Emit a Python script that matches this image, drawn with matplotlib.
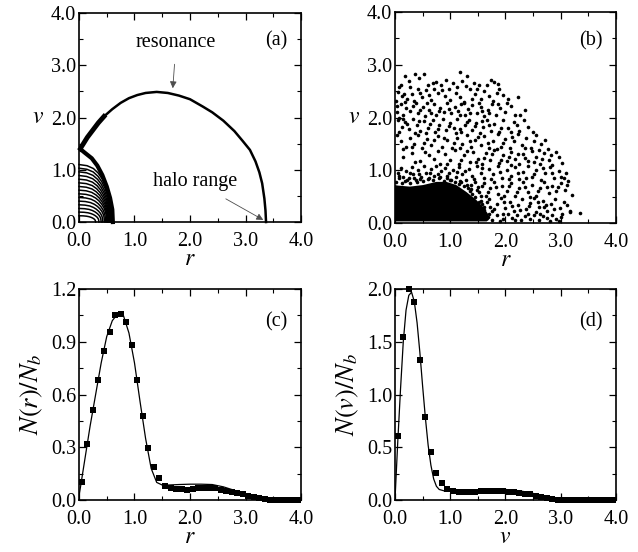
import numpy as np
import matplotlib
matplotlib.use('Agg')
import matplotlib.pyplot as plt
from matplotlib.ticker import MultipleLocator

plt.rcParams['font.family'] = 'Liberation Serif'
plt.rcParams['mathtext.fontset'] = 'stix'
plt.rcParams['font.size'] = 14.5

# ---------------- panel (a): phase-space trajectories ----------------
res_r = [0.02, 0.08, 0.15, 0.25, 0.35, 0.45, 0.60, 0.75, 0.90, 1.05, 1.20, 1.40, 1.60,
         1.80, 2.00, 2.23, 2.40, 2.60, 2.80, 2.95, 3.08, 3.18, 3.25, 3.30, 3.34, 3.36, 3.37]
res_v = [1.40, 1.50, 1.62, 1.76, 1.90, 2.02, 2.16, 2.28, 2.37, 2.43, 2.47, 2.49, 2.47,
         2.42, 2.35, 2.21, 2.10, 1.94, 1.74, 1.55, 1.38, 1.16, 0.95, 0.74, 0.45, 0.22, 0.0]

sep_r = [0.02, 0.10, 0.23, 0.33, 0.42, 0.50, 0.56, 0.60, 0.61]
sep_v = [1.40, 1.33, 1.22, 1.08, 0.90, 0.68, 0.46, 0.24, 0.0]

# unit quarter-arc shape, scaled by each orbit's extent
arc_x = [0.0, 0.25, 0.45, 0.60, 0.72, 0.82, 0.90, 0.95, 0.98, 1.0]
arc_y = [1.0, 0.98, 0.93, 0.85, 0.75, 0.63, 0.50, 0.37, 0.25, 0.0]
orbit_v0 = [1.10, 1.03, 0.96, 0.89, 0.82, 0.75, 0.68, 0.61, 0.54, 0.47, 0.40, 0.33, 0.26, 0.19, 0.12]
orbit_r0 = [0.58, 0.57, 0.56, 0.55, 0.54, 0.53, 0.52, 0.51, 0.50, 0.48, 0.46, 0.43, 0.40, 0.36, 0.30]

# ---------------- panel (b): particle distribution ----------------
core_r = [0.0, 0.0, 0.05, 0.27, 0.51, 0.75, 0.93, 1.11, 1.29, 1.47, 1.59, 1.68, 1.70, 1.66, 0.0]
core_v = [0.03, 0.72, 0.71, 0.69, 0.72, 0.78, 0.78, 0.72, 0.59, 0.44, 0.31, 0.18, 0.06, 0.03, 0.03]

halo_top = [(0.18, 2.78), (0.36, 2.82), (0.44, 2.74), (0.52, 2.82), (0.68, 2.66), (0.74, 2.67),
            (0.93, 2.72), (1.17, 2.87), (1.31, 2.78), (1.43, 2.66), (1.29, 2.60), (1.74, 2.72),
            (1.80, 2.68), (1.86, 2.63), (0.25, 2.70), (0.60, 2.62), (1.05, 2.65), (1.52, 2.62),
            (0.10, 2.62), (1.22, 2.70)]
halo_23 = [(0.05, 2.49), (0.41, 2.55), (0.56, 2.53), (0.77, 2.46), (1.35, 2.55), (1.89, 2.55),
           (2.23, 2.39), (0.12, 2.40), (0.22, 2.35), (0.30, 2.45), (0.48, 2.38), (0.65, 2.33),
           (0.85, 2.52), (0.90, 2.40), (1.00, 2.33), (1.10, 2.47), (1.18, 2.38), (1.25, 2.30),
           (1.45, 2.45), (1.55, 2.35), (1.62, 2.50), (1.70, 2.40), (1.78, 2.32), (1.95, 2.43),
           (2.05, 2.35), (0.02, 2.32), (0.35, 2.32), (0.70, 2.55), (1.40, 2.35), (1.85, 2.47)]
halo_20 = [(0.03, 2.10), (0.10, 2.25), (0.15, 2.05), (0.20, 2.18), (0.28, 2.12), (0.33, 2.22),
           (0.42, 2.08), (0.50, 2.20), (0.55, 2.02), (0.62, 2.15), (0.70, 2.25), (0.75, 2.05),
           (0.82, 2.18), (0.88, 2.10), (0.95, 2.27), (1.02, 2.08), (1.08, 2.20), (1.14, 2.12),
           (1.20, 2.25), (1.27, 2.05), (1.33, 2.17), (1.40, 2.24), (1.48, 2.08), (1.55, 2.20),
           (1.62, 2.02), (1.68, 2.15), (1.75, 2.26), (1.82, 2.05), (1.90, 2.18), (2.00, 2.10),
           (2.10, 2.22), (2.18, 2.05), (2.26, 2.04), (2.35, 2.15), (0.07, 2.00), (0.38, 2.27),
           (0.66, 2.08), (1.25, 2.28), (1.58, 2.12)]
halo_17 = [(0.05, 1.95), (0.12, 1.82), (0.18, 1.92), (0.08, 1.72), (0.25, 1.78), (0.32, 1.97),
           (0.40, 1.85), (0.46, 1.74), (0.52, 1.93), (0.60, 1.80), (0.68, 1.95), (0.72, 1.72),
           (0.80, 1.86), (0.86, 1.98), (0.93, 1.76), (1.00, 1.90), (1.06, 1.80), (1.13, 1.97),
           (1.20, 1.72), (1.26, 1.85), (1.34, 1.95), (1.40, 1.76), (1.47, 1.90), (1.53, 1.70),
           (1.60, 1.82), (1.66, 1.96), (1.73, 1.75), (1.80, 1.88), (1.88, 1.72), (1.95, 1.95),
           (2.05, 1.80), (2.15, 1.92), (2.25, 1.75), (2.41, 1.82), (2.33, 1.95), (2.50, 1.72),
           (0.36, 1.70), (1.10, 1.70)]
halo_14 = [(0.10, 1.55), (0.20, 1.45), (0.27, 1.62), (0.35, 1.50), (0.48, 1.42), (0.58, 1.60),
           (0.65, 1.48), (0.78, 1.65), (0.85, 1.45), (0.95, 1.58), (1.03, 1.42), (1.12, 1.62),
           (1.22, 1.50), (1.30, 1.66), (1.38, 1.44), (1.45, 1.58), (1.55, 1.48), (1.62, 1.65),
           (1.70, 1.42), (1.78, 1.55), (1.86, 1.68), (1.92, 1.45), (2.00, 1.60), (2.08, 1.42),
           (2.15, 1.55), (2.22, 1.68), (2.30, 1.48), (2.38, 1.62), (2.46, 1.42), (2.56, 1.66),
           (2.65, 1.50), (2.77, 1.41), (2.72, 1.58), (0.42, 1.66), (1.85, 1.40)]
halo_11 = [(0.15, 1.25), (0.30, 1.32), (0.45, 1.18), (0.55, 1.35), (0.70, 1.22), (0.82, 1.12),
           (0.90, 1.30), (1.00, 1.20), (1.08, 1.38), (1.15, 1.12), (1.25, 1.28), (1.35, 1.15),
           (1.42, 1.35), (1.50, 1.22), (1.58, 1.12), (1.65, 1.32), (1.72, 1.20), (1.80, 1.38),
           (1.88, 1.14), (1.95, 1.28), (2.02, 1.18), (2.10, 1.35), (2.18, 1.22), (2.25, 1.12),
           (2.32, 1.30), (2.40, 1.18), (2.48, 1.36), (2.55, 1.25), (2.62, 1.12), (2.70, 1.32),
           (2.78, 1.20), (2.85, 1.10), (2.92, 1.35), (2.97, 1.25), (2.60, 1.38), (2.10, 1.10)]
halo_08 = [(0.05, 0.95), (0.10, 1.05), (0.14, 0.88), (0.20, 0.98), (0.25, 0.85), (0.30, 1.07),
           (0.33, 0.92), (0.38, 0.82), (0.42, 1.00), (0.47, 0.88), (0.52, 1.08), (0.56, 0.95),
           (0.60, 0.84), (0.65, 1.02), (0.70, 0.90), (0.74, 1.08), (0.79, 0.86), (0.84, 0.98),
           (0.90, 1.05), (0.95, 0.90), (1.00, 0.82), (1.05, 1.00), (1.10, 0.88), (1.16, 1.06),
           (1.22, 0.92), (1.28, 0.82), (1.34, 1.02), (1.40, 0.90), (1.48, 1.08), (1.55, 0.95),
           (1.62, 0.85), (1.70, 1.02), (1.78, 0.92), (1.86, 1.08), (1.94, 0.86), (2.02, 1.00),
           (2.10, 0.90), (2.18, 1.06), (2.25, 0.84), (2.32, 0.96), (2.40, 1.08), (2.48, 0.88),
           (2.56, 1.00), (2.64, 0.82), (2.72, 0.94), (2.80, 1.06), (2.88, 0.86), (2.96, 0.98),
           (3.10, 0.94), (3.05, 0.85), (0.18, 0.80), (0.50, 0.80), (0.88, 0.80), (1.18, 0.80)]
halo_05 = [(1.30, 0.72), (1.38, 0.64), (1.45, 0.78), (1.52, 0.58), (1.58, 0.70), (1.65, 0.52),
           (1.72, 0.66), (1.80, 0.78), (1.86, 0.55), (1.94, 0.70), (2.02, 0.60), (2.10, 0.76),
           (2.18, 0.52), (2.25, 0.66), (2.32, 0.78), (2.40, 0.58), (2.48, 0.72), (2.55, 0.52),
           (2.62, 0.66), (2.70, 0.78), (2.78, 0.56), (2.85, 0.70), (2.92, 0.60), (3.00, 0.75),
           (3.08, 0.62), (3.20, 0.53), (2.45, 0.50), (1.98, 0.52), (1.20, 0.78), (1.62, 0.76)]
halo_02 = [(1.55, 0.42), (1.62, 0.30), (1.70, 0.45), (1.76, 0.22), (1.84, 0.36), (1.92, 0.48),
           (2.00, 0.28), (2.08, 0.40), (2.15, 0.22), (2.22, 0.34), (2.30, 0.46), (2.38, 0.26),
           (2.45, 0.38), (2.52, 0.48), (2.60, 0.30), (2.68, 0.42), (2.75, 0.22), (2.82, 0.36),
           (2.90, 0.46), (2.98, 0.28), (3.05, 0.40), (3.16, 0.23), (3.12, 0.34), (2.55, 0.20),
           (1.98, 0.40), (2.70, 0.30)]
halo_00 = [(1.68, 0.12), (1.75, 0.05), (1.85, 0.15), (1.95, 0.08), (2.05, 0.17), (2.12, 0.10),
           (2.20, 0.15), (2.28, 0.05), (2.36, 0.14), (2.45, 0.08), (2.52, 0.16), (2.60, 0.06),
           (2.68, 0.13), (2.76, 0.09), (2.84, 0.15), (2.92, 0.07), (3.00, 0.12), (3.17, 0.20),
           (3.35, 0.19), (2.40, 0.18), (1.90, 0.03), (2.80, 0.03)]
halo_upper_extra = [(0.07, 2.57), (0.16, 2.45), (0.27, 2.58), (0.45, 2.47), (0.61, 2.43), (0.83, 2.61),
                    (0.97, 2.55), (1.13, 2.58), (1.48, 2.55), (1.67, 2.62), (0.03, 2.22), (0.18, 2.29),
                    (0.46, 2.15), (0.58, 2.27), (0.79, 2.12), (0.98, 2.16), (1.17, 2.05), (1.36, 2.09),
                    (1.52, 2.27), (1.71, 2.08), (1.86, 2.25), (2.02, 2.28), (0.14, 1.97), (0.22, 1.87),
                    (0.44, 1.93), (0.57, 1.71), (0.64, 1.88), (0.77, 1.79), (0.97, 1.83), (1.17, 1.78),
                    (1.30, 1.92), (1.44, 1.83), (1.57, 1.93), (1.70, 1.86), (1.92, 1.81), (2.10, 1.72),
                    (2.20, 1.85), (0.04, 1.66), (0.15, 1.40), (0.31, 1.44), (0.53, 1.52), (0.70, 1.57),
                    (0.88, 1.62), (1.07, 1.52), (1.18, 1.42), (1.35, 1.55), (1.50, 1.64), (1.68, 1.52),
                    (1.96, 1.52), (2.12, 1.64), (2.35, 1.42), (2.52, 1.55)]
halo_lower_extra = [(0.37, 1.16), (0.62, 1.28), (0.77, 1.36), (0.95, 1.12), (1.20, 1.20), (1.31, 1.36),
                    (1.46, 1.15), (1.62, 1.24), (1.76, 1.30), (1.92, 1.20), (2.06, 1.26), (2.22, 1.30),
                    (2.36, 1.24), (2.52, 1.15), (2.66, 1.22), (2.82, 1.28), (3.02, 1.14), (0.08, 0.90),
                    (0.27, 0.94), (0.44, 0.92), (0.63, 0.95), (0.77, 0.93), (0.98, 0.95), (1.12, 0.96),
                    (1.26, 0.98), (1.43, 0.84), (1.58, 1.04), (1.73, 0.84), (1.90, 0.97), (2.06, 0.83),
                    (2.22, 0.94), (2.37, 0.86), (2.52, 0.93), (2.68, 1.04), (2.84, 0.95), (3.00, 0.88),
                    (3.14, 0.80), (1.35, 0.60), (1.50, 0.68), (1.69, 0.58), (1.83, 0.68), (2.06, 0.70),
                    (2.21, 0.59), (2.36, 0.68), (2.58, 0.60), (2.75, 0.68), (2.95, 0.68), (3.12, 0.72),
                    (1.80, 0.27), (1.95, 0.18), (2.11, 0.32), (2.26, 0.25), (2.42, 0.32), (2.58, 0.40),
                    (2.73, 0.35), (2.88, 0.26), (3.02, 0.18), (2.18, 0.06), (2.63, 0.17), (2.97, 0.04)]
core_edge = [(0.02, 0.78), (0.08, 0.85), (0.12, 0.76), (0.22, 0.82), (0.28, 0.76), (0.35, 0.86),
             (0.40, 0.78), (0.45, 0.84), (0.62, 0.86), (0.68, 0.82), (0.82, 0.88), (0.95, 0.85),
             (1.02, 0.82), (1.08, 0.78), (1.15, 0.74), (1.25, 0.70), (1.32, 0.66), (1.40, 0.55),
             (1.45, 0.50), (1.52, 0.40), (1.58, 0.36), (1.62, 0.25), (1.70, 0.18), (1.72, 0.30),
             (1.66, 0.40), (1.55, 0.52), (1.48, 0.62), (1.38, 0.72)]

# ---------------- panel (c): radial distribution ----------------
nr_x = [0.05, 0.15, 0.25, 0.35, 0.45, 0.55, 0.65, 0.75, 0.85, 0.95, 1.05, 1.15, 1.25, 1.35,
        1.45, 1.55, 1.65, 1.75, 1.85, 1.95, 2.05, 2.15, 2.25, 2.35, 2.45, 2.55, 2.65, 2.75,
        2.85, 2.95, 3.05, 3.15, 3.25, 3.35, 3.45, 3.55, 3.65, 3.75, 3.85, 3.95]
nr_sim = [0.104, 0.318, 0.512, 0.682, 0.847, 0.954, 1.05, 1.06, 1.01, 0.88, 0.682, 0.478,
          0.294, 0.186, 0.123, 0.082, 0.068, 0.063, 0.061, 0.057, 0.063, 0.066, 0.068, 0.070,
          0.066, 0.057, 0.049, 0.045, 0.038, 0.032, 0.023, 0.017, 0.010, 0.004, 0.0, 0.0,
          0.0, 0.0, 0.0, 0.0]
nr_line_x = [0.0, 0.1, 0.2, 0.3, 0.4, 0.5, 0.6, 0.7, 0.75, 0.8, 0.9, 1.0, 1.1, 1.2, 1.3, 1.4,
             1.5, 1.6, 1.8, 2.0, 2.2, 2.4, 2.6, 2.8, 3.0, 3.2, 3.3, 3.4, 4.0]
nr_line = [0.02, 0.22, 0.42, 0.60, 0.78, 0.93, 1.02, 1.06, 1.065, 1.05, 0.95, 0.78, 0.56,
           0.35, 0.18, 0.10, 0.085, 0.085, 0.088, 0.09, 0.09, 0.088, 0.075, 0.055, 0.03,
           0.01, 0.003, 0.0, 0.0]

# ---------------- panel (d): velocity distribution ----------------
nv_x = nr_x
nv_sim = [0.603, 1.548, 1.997, 1.88, 1.327, 0.785, 0.455, 0.256, 0.163, 0.109, 0.083, 0.077,
          0.077, 0.077, 0.077, 0.083, 0.087, 0.090, 0.090, 0.087, 0.077, 0.074, 0.064, 0.058,
          0.054, 0.042, 0.032, 0.022, 0.013, 0.003, 0.0, 0.0, 0.0, 0.0, 0.0, 0.0, 0.0, 0.0,
          0.0, 0.0]
nv_line_x = [0.0, 0.05, 0.1, 0.15, 0.2, 0.25, 0.3, 0.35, 0.4, 0.45, 0.5, 0.55, 0.6, 0.65,
             0.7, 0.75, 0.8, 0.9, 1.0, 1.2, 1.4, 1.6, 1.8, 2.0, 2.2, 2.4, 2.6, 2.8, 2.9, 3.0, 4.0]
nv_line = [0.0, 0.55, 1.05, 1.50, 1.80, 1.94, 1.97, 1.88, 1.68, 1.40, 1.08, 0.78, 0.52, 0.33,
           0.20, 0.13, 0.10, 0.085, 0.085, 0.09, 0.095, 0.10, 0.105, 0.10, 0.09, 0.075, 0.05,
           0.02, 0.008, 0.0, 0.0]


def style_axes(ax, ymax, ymaj, ymin):
    ax.set_xlim(0, 4)
    ax.set_ylim(0, ymax)
    ax.xaxis.set_major_locator(MultipleLocator(1.0))
    ax.xaxis.set_minor_locator(MultipleLocator(0.5))
    ax.yaxis.set_major_locator(MultipleLocator(ymaj))
    ax.yaxis.set_minor_locator(MultipleLocator(ymin))
    ax.xaxis.set_major_formatter('{x:.1f}')
    ax.yaxis.set_major_formatter('{x:.1f}')
    ax.tick_params(which='both', direction='in', top=True, right=True, labelsize=14.5)
    ax.tick_params(which='major', length=5, width=0.9)
    ax.tick_params(which='minor', length=3, width=0.8)
    ax.tick_params(axis='x', which='major', pad=7)
    ax.tick_params(axis='y', which='major', pad=2)
    for s in ax.spines.values():
        s.set_linewidth(1.2)


fig = plt.figure(figsize=(6.38, 5.52), dpi=100)
ax_a = fig.add_axes([0.1238, 0.5978, 0.3480, 0.3786])
ax_b = fig.add_axes([0.6191, 0.5960, 0.3464, 0.3822])
ax_c = fig.add_axes([0.1238, 0.0942, 0.3480, 0.3822])
ax_d = fig.add_axes([0.6191, 0.0942, 0.3464, 0.3822])

# (a)
for v0, r0 in zip(orbit_v0, orbit_r0):
    ax_a.plot(np.array(arc_x) * r0, np.array(arc_y) * v0, color='k', lw=1.1, clip_on=False)
ax_a.plot(sep_r, sep_v, color='k', lw=3.0, clip_on=False)
ax_a.plot(res_r, res_v, color='k', lw=1.8, clip_on=False)
ax_a.plot(res_r[:6], res_v[:6], color='k', lw=3.5)
ax_a.annotate('resonance', xy=(1.69, 2.56), xytext=(1.75, 3.44), ha='center', va='center',
              fontsize=14.5, arrowprops=dict(arrowstyle='-|>', color='0.3', lw=0.6,
                                             mutation_scale=10, shrinkA=7, shrinkB=0))
ax_a.annotate('halo range', xy=(3.32, 0.04), xytext=(2.1, 0.77), ha='center', va='center',
              fontsize=14.5, arrowprops=dict(arrowstyle='-|>', color='0.3', lw=0.6,
                                             mutation_scale=10, shrinkA=7, shrinkB=0))
style_axes(ax_a, 4.0, 1.0, 0.5)
ax_a.set_xlabel('$r$', fontsize=17, labelpad=-1)
ax_a.set_ylabel('$v$', fontsize=17, rotation=0, labelpad=9, va='center')
ax_a.text(0.94, 0.865, '(a)', transform=ax_a.transAxes, ha='right', va='center', fontsize=14.5)

# (b)
ax_b.fill(core_r, core_v, color='k', lw=0)
for band in [halo_top, halo_23, halo_20, halo_17, halo_14, halo_11, halo_08, halo_05,
             halo_02, halo_00, halo_upper_extra, halo_lower_extra, core_edge]:
    br, bv = zip(*band)
    ax_b.plot(br, bv, 'o', color='k', ms=2.6, mew=0)
style_axes(ax_b, 4.0, 1.0, 0.5)
ax_b.set_xlabel('$r$', fontsize=17, labelpad=-1)
ax_b.set_ylabel('$v$', fontsize=17, rotation=0, labelpad=9, va='center')
ax_b.text(0.94, 0.865, '(b)', transform=ax_b.transAxes, ha='right', va='center', fontsize=14.5)

# (c)
ax_c.plot(nr_line_x, nr_line, color='k', lw=0.9)
ax_c.plot(nr_x, nr_sim, 's', color='k', ms=3.8, mew=0, clip_on=False)
style_axes(ax_c, 1.2, 0.3, 0.15)
ax_c.set_xlabel('$r$', fontsize=17, labelpad=-1)
ax_c.set_ylabel('$N(r)/N_b$', fontsize=19, labelpad=4)
ax_c.text(0.94, 0.843, '(c)', transform=ax_c.transAxes, ha='right', va='center', fontsize=14.5)

# (d)
ax_d.plot(nv_line_x, nv_line, color='k', lw=0.9)
ax_d.plot(nv_x, nv_sim, 's', color='k', ms=3.8, mew=0, clip_on=False)
style_axes(ax_d, 2.0, 0.5, 0.25)
ax_d.set_xlabel('$v$', fontsize=17, labelpad=-1)
ax_d.set_ylabel('$N(v)/N_b$', fontsize=19, labelpad=4)
ax_d.text(0.94, 0.843, '(d)', transform=ax_d.transAxes, ha='right', va='center', fontsize=14.5)

fig.savefig('out.png', dpi=100)
